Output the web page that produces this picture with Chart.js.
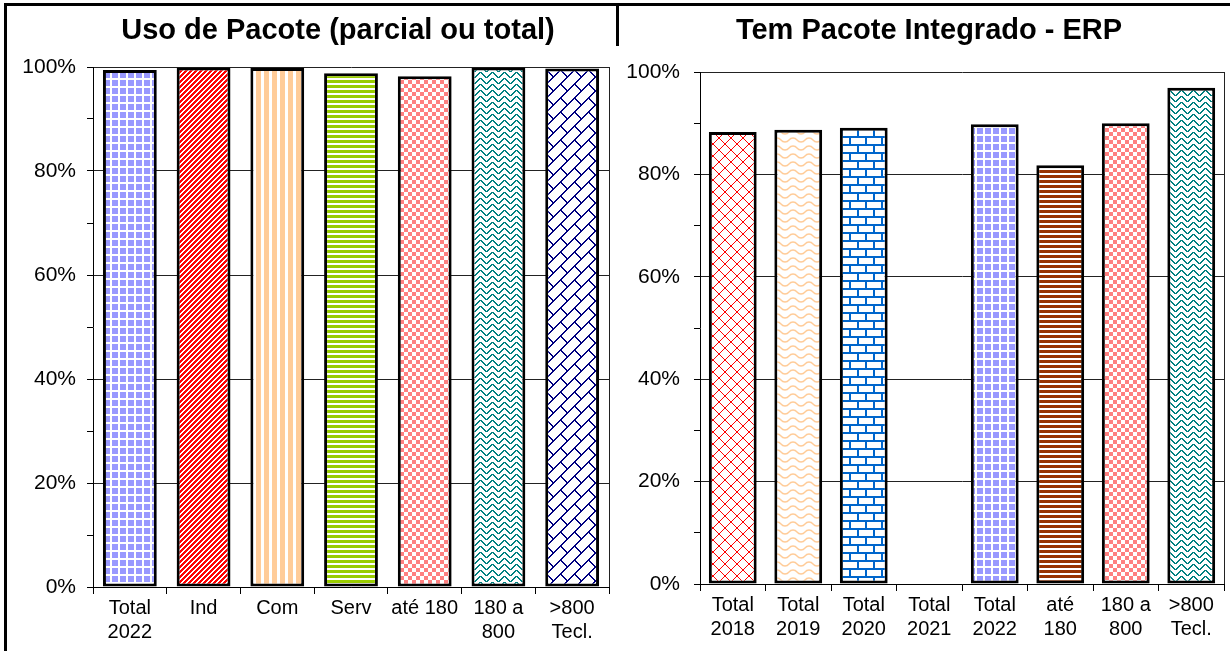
<!DOCTYPE html>
<html lang="pt">
<head>
<meta charset="utf-8">
<script src="https://cdn.jsdelivr.net/npm/chart.js@4.4.0/dist/chart.umd.min.js"></script>
<style>
    html, body { margin: 0; padding: 0; background: #fff; }
    #wrap { position: relative; width: 1230px; height: 651px; overflow: hidden; }
    canvas { position: absolute; top: 0; }
    #cEsq { left: 0; }
    #cDir { left: 617px; }
    .titulo {
        position: absolute; top: 13px; line-height: 34px;
        font: bold 29px Arial, "Liberation Sans", sans-serif;
        transform: translateX(-50%); white-space: nowrap; color: #000;
    }
    .linha { position: absolute; background: #000; }
</style>
</head>
<body>
<div id="wrap">
    <canvas id="cEsq" width="617" height="651"></canvas>
    <canvas id="cDir" width="613" height="651"></canvas>
    <div class="titulo" style="left:338px">Uso de Pacote (parcial ou total)</div>
    <div class="titulo" style="left:929px">Tem Pacote Integrado - ERP</div>
    <div class="linha" style="left:4px;top:3px;width:1226px;height:3px"></div>
    <div class="linha" style="left:4px;top:3px;width:3px;height:648px"></div>
    <div class="linha" style="left:616px;top:3px;width:3px;height:43px"></div>
</div>
<script>
// Dados - Uso de Pacote (parcial ou total)
const categoriasUso = [['Total', '2022'], 'Ind', 'Com', 'Serv', 'até 180', ['180 a', '800'], ['>800', 'Tecl.']];
const valoresUso = [99.4, 99.9, 99.8, 98.8, 98.2, 99.9, 99.7];

// Dados - Tem Pacote Integrado - ERP (2021 sem barra)
const categoriasErp = [['Total', '2018'], ['Total', '2019'], ['Total', '2020'], ['Total', '2021'],
    ['Total', '2022'], ['até', '180'], ['180 a', '800'], ['>800', 'Tecl.']];
const valoresErp = [88.3, 88.7, 89.1, null, 89.8, 81.8, 90.0, 96.9];

// Rótulos do eixo Y
const ticksY = [0, 20, 40, 60, 80, 100];

const FONTE = 'Arial, "Liberation Sans", sans-serif';

// Cria um padrão (hachura) num canvas pequeno
function padrao(w, h, desenho) {
    const c = document.createElement('canvas');
    c.width = w;
    c.height = h;
    const g = c.getContext('2d');
    g.fillStyle = '#fff';
    g.fillRect(0, 0, w, h);
    desenho(g, w, h);
    return g.createPattern(c, 'repeat');
}

// ponto com "wrap" nas bordas do tile
function ponto(g, x, y, w, h, cor) {
    g.fillStyle = cor;
    g.fillRect(((x % w) + w) % w, ((y % h) + h) % h, 1, 1);
}

const pGrade = padrao(8, 8, g => { g.fillStyle = '#9999FF'; g.fillRect(0, 0, 6, 6); });
const pDiagVermelha = padrao(5, 5, (g, w, h) => {
    for (let x = 0; x < w; x++)
        for (let y = 0; y < h; y++)
            if ((x + y) % 5 < 3) ponto(g, x, y, w, h, '#FF0000');
});
const pVertical = padrao(8, 1, g => { g.fillStyle = '#FFCC99'; g.fillRect(0, 0, 5, 1); });
const pHorizVerde = padrao(1, 5, g => { g.fillStyle = '#99CC00'; g.fillRect(0, 0, 1, 3); });
const pXadrez = padrao(8, 8, g => {
    g.fillStyle = '#FF8080';
    g.fillRect(0, 0, 4, 4);
    g.fillRect(4, 4, 4, 4);
});
const zig = [0, 1, 2, 3, 4, 5, 5, 4, 3, 2, 1, 0];
const pZigue = padrao(12, 6, (g, w, h) => {
    zig.forEach((y, x) => {
        ponto(g, x, y, w, h, '#008080');
        ponto(g, x + 1, y, w, h, '#008080');
    });
});
const pTijoloDiag = padrao(14, 14, (g, w, h) => {
    for (let i = 0; i < 14; i++) {
        ponto(g, i, 13 - i, w, h, '#000080');
        ponto(g, i + 1, 13 - i, w, h, '#000080');
    }
    for (let i = 0; i < 7; i++) {
        ponto(g, i, i, w, h, '#000080');
        ponto(g, i + 1, i, w, h, '#000080');
    }
});
const pTrelica = padrao(12, 12, (g, w, h) => {
    for (let i = 0; i < 12; i++) {
        ponto(g, i, i, w, h, '#FF0000');
        ponto(g, 11 - i, i, w, h, '#FF0000');
    }
});
const pOnda = padrao(16, 8, g => {
    g.strokeStyle = '#FFCC99';
    g.lineWidth = 1.3;
    g.beginPath();
    g.moveTo(0, 2);
    g.bezierCurveTo(5, 2, 3, 6, 8, 6);
    g.bezierCurveTo(13, 6, 11, 2, 16, 2);
    g.stroke();
});
const pTijolo = padrao(16, 16, g => {
    g.fillStyle = '#0066CC';
    g.fillRect(0, 0, 16, 2);
    g.fillRect(0, 8, 16, 2);
    g.fillRect(0, 0, 2, 8);
    g.fillRect(8, 8, 2, 8);
});
const pMarrom = padrao(1, 5, g => { g.fillStyle = '#993300'; g.fillRect(0, 0, 1, 3); });

const coresUso = [pGrade, pDiagVermelha, pVertical, pHorizVerde, pXadrez, pZigue, pTijoloDiag];
const coresErp = [pTrelica, pOnda, pTijolo, '#fff', pGrade, pMarrom, pXadrez, pZigue];

// Borda direita da área do gráfico
const bordaArea = {
    id: 'bordaArea',
    afterDraw(chart) {
        const a = chart.chartArea;
        const ctx = chart.ctx;
        ctx.save();
        ctx.strokeStyle = '#222';
        ctx.lineWidth = 1;
        ctx.beginPath();
        ctx.moveTo(Math.round(a.right) + 0.5, a.top);
        ctx.lineTo(Math.round(a.right) + 0.5, a.bottom);
        ctx.stroke();
        ctx.restore();
    }
};

function criarGrafico(id, labels, valores, cores, cfg) {
    return new Chart(document.getElementById(id), {
        type: 'bar',
        data: {
            labels: labels,
            datasets: [{
                data: valores,
                backgroundColor: cores,
                borderColor: '#000',
                borderWidth: 3,
                borderSkipped: false,
                barPercentage: 0.73,
                categoryPercentage: 1
            }]
        },
        options: {
            responsive: false,
            animation: false,
            devicePixelRatio: 1,
            layout: { padding: { top: cfg.topo, right: cfg.direita, left: 0, bottom: 0 } },
            plugins: { legend: { display: false }, tooltip: { enabled: false } },
            scales: {
                x: {
                    grid: { drawOnChartArea: false, tickLength: 7, tickColor: '#000', offset: true },
                    border: { color: '#000', width: 1 },
                    ticks: { color: '#000', font: { family: FONTE, size: 20, lineHeight: 1.2 }, padding: 2, maxRotation: 0, autoSkip: false },
                    afterFit: s => { s.height = cfg.alturaX; }
                },
                y: {
                    min: 0,
                    max: 100,
                    grid: {
                        color: ctx => ticksY.includes(ctx.tick.value) ? '#222' : 'rgba(0,0,0,0)',
                        tickColor: '#000',
                        tickLength: 6
                    },
                    border: { color: '#000', width: 1 },
                    ticks: {
                        stepSize: 10,
                        color: '#000',
                        padding: cfg.padY,
                        font: { family: FONTE, size: 21 },
                        callback: v => ticksY.includes(v) ? v + '%' : ''
                    },
                    afterFit: s => { s.width = cfg.larguraY; }
                }
            }
        },
        plugins: [bordaArea]
    });
}

criarGrafico('cEsq', categoriasUso, valoresUso, coresUso,
    { topo: 67, direita: 8, alturaX: 64, larguraY: 93, padY: 11 });
criarGrafico('cDir', categoriasErp, valoresErp, coresErp,
    { topo: 72, direita: 6, alturaX: 67, larguraY: 83, padY: 14 });
</script>
</body>
</html>
